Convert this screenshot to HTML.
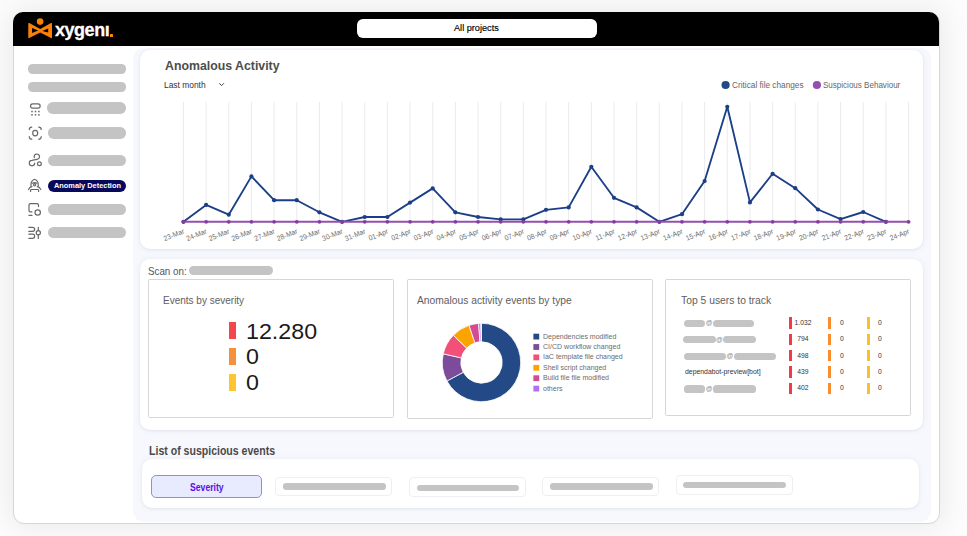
<!DOCTYPE html>
<html><head><meta charset="utf-8">
<style>
*{margin:0;padding:0;box-sizing:border-box}
html,body{width:967px;height:536px;overflow:hidden}
body{position:relative;background:#f4f4f4;font-family:"Liberation Sans",sans-serif;color:#555}
.abs{position:absolute}
#bgfade{position:absolute;left:0;top:0;width:967px;height:536px;background:#fcfcfc}
#win{position:absolute;left:13px;top:12px;width:927px;height:512px;background:#fff;border:1px solid #d6d6d6;border-radius:11px;box-shadow:0 0 28px 3px rgba(0,0,0,0.075)}
#hdr{position:absolute;left:13.4px;top:12px;width:925.9px;height:33.8px;background:#000;border-radius:10px 10px 0 0}
#lav{position:absolute;left:133px;top:48px;width:798px;height:473.6px;background:#f7f8fd;border-radius:11px}
.card{position:absolute;background:#fff;border-radius:10px;box-shadow:0 1px 3px rgba(60,60,90,0.08),0 0 6px rgba(120,125,170,0.08)}
.box{position:absolute;border:1.5px solid #d6d6d6;border-radius:1.5px;background:#fff}
.flt{position:absolute;background:#fff;border:1px solid #efeff3;border-radius:4px}
.t{position:absolute;white-space:nowrap;line-height:1}
svg text{font-family:"Liberation Sans",sans-serif}
</style></head>
<body>
<div id="bgfade"></div><div id="win"></div><div id="hdr"></div>
<svg class="abs" style="left:27px;top:17px" width="26" height="23" viewBox="0 0 26 23">
<circle cx="13.1" cy="4.6" r="3.3" fill="#fb8005"/>
<path fill-rule="evenodd" fill="#fb8005" d="M1.3 6.6 Q1.3 5.6 2.3 6.1 L13.2 12 L24 6.1 Q25 5.6 25 6.6 L25 20.6 Q25 21.6 24 21.1 L13.2 15.4 L2.3 21.1 Q1.3 21.6 1.3 20.6 Z M5.05 11.1 L11.1 13.4 L5.05 15.9 Z M21.2 11.4 L15.4 14 L21.2 15.6 Z"/>
</svg>
<div class="t" style="left:55px;top:21.2px;font-size:18.6px;font-weight:bold;color:#fff;letter-spacing:-0.45px;-webkit-text-stroke:0.3px #fff;transform:scaleX(0.965);transform-origin:0 0">xygen&#305;</div>
<div class="abs" style="left:109.90px;top:33.85px;width:3.40px;height:2.70px;background:#fc8a05;border-radius:0.6px"></div>
<div class="abs" style="left:357.00px;top:18.80px;width:240.00px;height:19.00px;background:#fff;border-radius:6px"></div>
<div class="t" style="left:453.90px;top:23.37px;font-size:9.60px;color:#000;transform:scaleX(0.955);transform-origin:0 0;-webkit-text-stroke:0.15px #000">All projects</div>
<div class="abs" style="left:28.00px;top:64.30px;width:98.20px;height:9.30px;background:#c4c4c4;border-radius:4.65px"></div>
<div class="abs" style="left:28.00px;top:82.30px;width:98.20px;height:9.30px;background:#c4c4c4;border-radius:4.65px"></div>
<div class="abs" style="left:47.10px;top:102.00px;width:78.70px;height:11.50px;background:#c4c4c4;border-radius:5.75px"></div>
<div class="abs" style="left:47.90px;top:127.40px;width:77.90px;height:11.50px;background:#c4c4c4;border-radius:5.75px"></div>
<div class="abs" style="left:47.90px;top:154.60px;width:77.90px;height:11.40px;background:#c4c4c4;border-radius:5.70px"></div>
<div class="abs" style="left:47.50px;top:179.50px;width:78.50px;height:12.00px;background:#08095a;border-radius:6px"></div>
<div class="t" style="left:54.00px;top:181.64px;font-size:7.40px;color:#fff;font-weight:bold">Anomaly Detection</div>
<div class="abs" style="left:47.90px;top:203.60px;width:77.90px;height:11.40px;background:#c4c4c4;border-radius:5.70px"></div>
<div class="abs" style="left:47.90px;top:226.60px;width:77.90px;height:11.60px;background:#c4c4c4;border-radius:5.80px"></div>
<svg class="abs" style="left:0;top:0" width="60" height="260" viewBox="0 0 60 260" fill="none" stroke="#686868" stroke-width="1.2" stroke-linecap="round">
<rect x="30.55" y="103.85" width="9.6" height="4.2" rx="2.1"/>
<g fill="#6e6e6e" stroke="none">
<rect x="31.2" y="110.8" width="1.6" height="1.5"/><rect x="34.7" y="110.8" width="1.6" height="1.5"/><rect x="38.1" y="110.8" width="1.6" height="1.5"/>
<rect x="31.2" y="114.1" width="1.6" height="1.5"/><rect x="34.7" y="114.1" width="1.6" height="1.5"/><rect x="38.1" y="114.1" width="1.6" height="1.5"/>
</g>
<path d="M29.3 129.6 Q29.3 127.1 31.8 127.1 M38.7 127.1 Q41.2 127.1 41.2 129.6 M41.2 136.7 Q41.2 139.2 38.7 139.2 M31.8 139.2 Q29.3 139.2 29.3 136.7"/>
<ellipse cx="35.2" cy="133.1" rx="2.5" ry="2.8"/>
<path d="M34.3 157.6 A2.7 2.7 0 1 1 36.9 159.4 L32 160.4 A2.7 2.7 0 1 0 34.7 163.1"/>
<circle cx="39.4" cy="163.8" r="1.9"/>
<path d="M31 186.3 L31 184.2 Q31 180.8 34.6 179.3 Q38.2 180.8 38.2 184.2 L38.2 186.3"/>
<path d="M32.3 183.2 Q34.6 181.9 36.9 183.2"/><circle cx="34.6" cy="184.7" r="1.1"/>
<path d="M28.5 189.6 Q29.5 187 32 186.6 M40.8 189.6 Q39.8 187 37.3 186.6"/>
<path d="M30.6 191.5 L30.6 190.3 Q30.6 189.5 31.4 189.5 L37.8 189.5 Q38.6 189.5 38.6 190.3 L38.6 191.5"/>
<path d="M31.9 211.9 L30.3 211.9 Q29 211.9 29 210.6 L29 204.9 Q29 203.6 30.3 203.6 L37.2 203.6 Q38.5 203.6 38.5 204.9 L38.5 206.6"/>
<path d="M29 215.4 L32 215.4"/>
<circle cx="37.7" cy="212.5" r="2.7"/>
<path d="M28.8 227.3 L32.6 227.3 A2.05 2.05 0 0 1 32.6 231.4 L28.8 231.4"/>
<path d="M28.8 234.2 L32.6 234.2 A2.05 2.05 0 0 1 32.6 238.3 L28.8 238.3"/>
<path d="M38.3 227.3 L38.3 230.5 M38.3 234.9 L38.3 238.4"/><circle cx="38.3" cy="232.7" r="2.1"/>
</svg>
<div id="lav"></div>
<div class="card" style="left:139.5px;top:50.3px;width:783.5px;height:199px"></div>
<div class="t" style="left:164.60px;top:59.06px;font-size:13.40px;color:#4d4d4d;font-weight:bold;transform:scaleX(0.920);transform-origin:0 0">Anomalous Activity</div>
<div class="t" style="left:164.10px;top:80.78px;font-size:9.00px;color:#333;transform:scaleX(0.935);transform-origin:0 0">Last month</div>
<div class="card" style="left:140px;top:258.5px;width:783px;height:171px"></div>
<div class="t" style="left:147.90px;top:265.74px;font-size:10.70px;color:#555;transform:scaleX(0.915);transform-origin:0 0">Scan on:</div>
<div class="abs" style="left:188.50px;top:266.10px;width:84.20px;height:9.20px;background:#c4c4c4;border-radius:4.60px"></div>
<div class="box" style="left:148.25px;top:279.2px;width:245.4px;height:138.55px"></div>
<div class="box" style="left:407.15px;top:279.2px;width:245.4px;height:139.45px"></div>
<div class="box" style="left:665.45px;top:279.2px;width:245.7px;height:137.3px"></div>
<div class="t" style="left:163.00px;top:295.07px;font-size:10.90px;color:#5e5e5e;transform:scaleX(0.918);transform-origin:0 0">Events by severity</div>
<div class="abs" style="left:229.00px;top:321.70px;width:6.80px;height:17.00px;background:#f2474f;"></div>
<div class="abs" style="left:229.00px;top:348.20px;width:6.80px;height:17.00px;background:#f7903a;"></div>
<div class="abs" style="left:229.00px;top:373.60px;width:6.80px;height:17.00px;background:#fcc531;"></div>
<div class="t" style="left:246.00px;top:320.00px;font-size:22.80px;color:#1a1a1a;transform:scaleX(1.020);transform-origin:0 0">12.280</div>
<div class="t" style="left:246.00px;top:345.10px;font-size:22.80px;color:#1a1a1a;transform:scaleX(1.020);transform-origin:0 0">0</div>
<div class="t" style="left:246.00px;top:371.00px;font-size:22.80px;color:#1a1a1a;transform:scaleX(1.020);transform-origin:0 0">0</div>
<div class="t" style="left:417.30px;top:294.82px;font-size:11.20px;color:#5e5e5e;transform:scaleX(0.918);transform-origin:0 0">Anomalous activity events by type</div>
<div class="t" style="left:681.00px;top:294.78px;font-size:11.25px;color:#5e5e5e;transform:scaleX(0.918);transform-origin:0 0">Top 5 users to track</div>
<div class="t" style="left:542.60px;top:332.67px;font-size:7.60px;color:#6b6b6b;transform:scaleX(0.925);transform-origin:0 0">Dependencies modified</div>
<div class="t" style="left:542.60px;top:343.07px;font-size:7.60px;color:#6b6b6b;transform:scaleX(0.925);transform-origin:0 0">CI/CD workflow changed</div>
<div class="t" style="left:542.60px;top:353.47px;font-size:7.60px;color:#6b6b6b;transform:scaleX(0.925);transform-origin:0 0">IaC template file changed</div>
<div class="t" style="left:542.60px;top:363.87px;font-size:7.60px;color:#6b6b6b;transform:scaleX(0.925);transform-origin:0 0">Shell script changed</div>
<div class="t" style="left:542.60px;top:374.27px;font-size:7.60px;color:#6b6b6b;transform:scaleX(0.925);transform-origin:0 0">Build file file modified</div>
<div class="t" style="left:542.60px;top:384.67px;font-size:7.60px;color:#6b6b6b;transform:scaleX(0.925);transform-origin:0 0">others</div>
<div class="abs" style="left:683.90px;top:319.90px;width:21.40px;height:7.20px;background:#c4c4c4;border-radius:3.60px"></div>
<div class="abs" style="left:712.70px;top:319.90px;width:41.00px;height:7.20px;background:#c4c4c4;border-radius:3.60px"></div>
<div class="t" style="left:704.8px;top:320.3px;width:8.4px;text-align:center;font-size:6.6px;color:#8a8a8a">@</div>
<div class="abs" style="left:789.30px;top:317.30px;width:2.80px;height:11.40px;background:#f03b48;"></div>
<div class="abs" style="left:828.30px;top:317.30px;width:2.80px;height:11.40px;background:#f98c2b;"></div>
<div class="abs" style="left:867.00px;top:317.30px;width:2.80px;height:11.40px;background:#fcbf26;"></div>
<div class="t" style="left:783.0px;top:318.84px;width:40px;text-align:center;font-size:7.4px;color:#333;transform:scaleX(0.915)">1.032</div>
<div class="t" style="left:821.6px;top:318.84px;width:40px;text-align:center;font-size:7.4px;color:#333;transform:scaleX(0.915)">0</div>
<div class="t" style="left:860.2px;top:318.84px;width:40px;text-align:center;font-size:7.4px;color:#333;transform:scaleX(0.915)">0</div>
<div class="abs" style="left:683.10px;top:336.30px;width:32.70px;height:7.20px;background:#c4c4c4;border-radius:3.60px"></div>
<div class="abs" style="left:723.00px;top:336.30px;width:32.70px;height:7.20px;background:#c4c4c4;border-radius:3.60px"></div>
<div class="t" style="left:715.3px;top:336.7px;width:8.2px;text-align:center;font-size:6.6px;color:#8a8a8a">@</div>
<div class="abs" style="left:789.30px;top:333.70px;width:2.80px;height:11.40px;background:#f03b48;"></div>
<div class="abs" style="left:828.30px;top:333.70px;width:2.80px;height:11.40px;background:#f98c2b;"></div>
<div class="abs" style="left:867.00px;top:333.70px;width:2.80px;height:11.40px;background:#fcbf26;"></div>
<div class="t" style="left:783.0px;top:335.24px;width:40px;text-align:center;font-size:7.4px;color:#333;transform:scaleX(0.915)">794</div>
<div class="t" style="left:821.6px;top:335.24px;width:40px;text-align:center;font-size:7.4px;color:#333;transform:scaleX(0.915)">0</div>
<div class="t" style="left:860.2px;top:335.24px;width:40px;text-align:center;font-size:7.4px;color:#333;transform:scaleX(0.915)">0</div>
<div class="abs" style="left:683.90px;top:352.70px;width:42.10px;height:7.20px;background:#c4c4c4;border-radius:3.60px"></div>
<div class="abs" style="left:733.70px;top:352.70px;width:42.40px;height:7.20px;background:#c4c4c4;border-radius:3.60px"></div>
<div class="t" style="left:725.5px;top:353.1px;width:8.7px;text-align:center;font-size:6.6px;color:#8a8a8a">@</div>
<div class="abs" style="left:789.30px;top:350.10px;width:2.80px;height:11.40px;background:#f03b48;"></div>
<div class="abs" style="left:828.30px;top:350.10px;width:2.80px;height:11.40px;background:#f98c2b;"></div>
<div class="abs" style="left:867.00px;top:350.10px;width:2.80px;height:11.40px;background:#fcbf26;"></div>
<div class="t" style="left:783.0px;top:351.64px;width:40px;text-align:center;font-size:7.4px;color:#333;transform:scaleX(0.915)">498</div>
<div class="t" style="left:821.6px;top:351.64px;width:40px;text-align:center;font-size:7.4px;color:#333;transform:scaleX(0.915)">0</div>
<div class="t" style="left:860.2px;top:351.64px;width:40px;text-align:center;font-size:7.4px;color:#333;transform:scaleX(0.915)">0</div>
<div class="t" style="left:684.80px;top:368.15px;font-size:7.50px;color:#333;transform:scaleX(0.915);transform-origin:0 0">dependabot-preview[bot]</div>
<div class="abs" style="left:789.30px;top:366.30px;width:2.80px;height:11.40px;background:#f03b48;"></div>
<div class="abs" style="left:828.30px;top:366.30px;width:2.80px;height:11.40px;background:#f98c2b;"></div>
<div class="abs" style="left:867.00px;top:366.30px;width:2.80px;height:11.40px;background:#fcbf26;"></div>
<div class="t" style="left:783.0px;top:367.84px;width:40px;text-align:center;font-size:7.4px;color:#333;transform:scaleX(0.915)">439</div>
<div class="t" style="left:821.6px;top:367.84px;width:40px;text-align:center;font-size:7.4px;color:#333;transform:scaleX(0.915)">0</div>
<div class="t" style="left:860.2px;top:367.84px;width:40px;text-align:center;font-size:7.4px;color:#333;transform:scaleX(0.915)">0</div>
<div class="abs" style="left:683.90px;top:385.40px;width:21.40px;height:7.20px;background:#c4c4c4;border-radius:3.60px"></div>
<div class="abs" style="left:712.70px;top:385.40px;width:43.00px;height:7.20px;background:#c4c4c4;border-radius:3.60px"></div>
<div class="t" style="left:704.8px;top:385.8px;width:8.4px;text-align:center;font-size:6.6px;color:#8a8a8a">@</div>
<div class="abs" style="left:789.30px;top:382.80px;width:2.80px;height:11.40px;background:#f03b48;"></div>
<div class="abs" style="left:828.30px;top:382.80px;width:2.80px;height:11.40px;background:#f98c2b;"></div>
<div class="abs" style="left:867.00px;top:382.80px;width:2.80px;height:11.40px;background:#fcbf26;"></div>
<div class="t" style="left:783.0px;top:384.34px;width:40px;text-align:center;font-size:7.4px;color:#333;transform:scaleX(0.915)">402</div>
<div class="t" style="left:821.6px;top:384.34px;width:40px;text-align:center;font-size:7.4px;color:#333;transform:scaleX(0.915)">0</div>
<div class="t" style="left:860.2px;top:384.34px;width:40px;text-align:center;font-size:7.4px;color:#333;transform:scaleX(0.915)">0</div>
<svg class="abs" style="left:0;top:0" width="967" height="536" viewBox="0 0 967 536">
<line x1="183.45" y1="102" x2="183.45" y2="221.8" stroke="#ebebeb" stroke-width="1"/>
<line x1="206.11" y1="102" x2="206.11" y2="221.8" stroke="#ebebeb" stroke-width="1"/>
<line x1="228.77" y1="102" x2="228.77" y2="221.8" stroke="#ebebeb" stroke-width="1"/>
<line x1="251.43" y1="102" x2="251.43" y2="221.8" stroke="#ebebeb" stroke-width="1"/>
<line x1="274.09" y1="102" x2="274.09" y2="221.8" stroke="#ebebeb" stroke-width="1"/>
<line x1="296.75" y1="102" x2="296.75" y2="221.8" stroke="#ebebeb" stroke-width="1"/>
<line x1="319.41" y1="102" x2="319.41" y2="221.8" stroke="#ebebeb" stroke-width="1"/>
<line x1="342.07" y1="102" x2="342.07" y2="221.8" stroke="#ebebeb" stroke-width="1"/>
<line x1="364.73" y1="102" x2="364.73" y2="221.8" stroke="#ebebeb" stroke-width="1"/>
<line x1="387.39" y1="102" x2="387.39" y2="221.8" stroke="#ebebeb" stroke-width="1"/>
<line x1="410.05" y1="102" x2="410.05" y2="221.8" stroke="#ebebeb" stroke-width="1"/>
<line x1="432.71" y1="102" x2="432.71" y2="221.8" stroke="#ebebeb" stroke-width="1"/>
<line x1="455.37" y1="102" x2="455.37" y2="221.8" stroke="#ebebeb" stroke-width="1"/>
<line x1="478.03" y1="102" x2="478.03" y2="221.8" stroke="#ebebeb" stroke-width="1"/>
<line x1="500.69" y1="102" x2="500.69" y2="221.8" stroke="#ebebeb" stroke-width="1"/>
<line x1="523.35" y1="102" x2="523.35" y2="221.8" stroke="#ebebeb" stroke-width="1"/>
<line x1="546.01" y1="102" x2="546.01" y2="221.8" stroke="#ebebeb" stroke-width="1"/>
<line x1="568.67" y1="102" x2="568.67" y2="221.8" stroke="#ebebeb" stroke-width="1"/>
<line x1="591.33" y1="102" x2="591.33" y2="221.8" stroke="#ebebeb" stroke-width="1"/>
<line x1="613.99" y1="102" x2="613.99" y2="221.8" stroke="#ebebeb" stroke-width="1"/>
<line x1="636.65" y1="102" x2="636.65" y2="221.8" stroke="#ebebeb" stroke-width="1"/>
<line x1="659.31" y1="102" x2="659.31" y2="221.8" stroke="#ebebeb" stroke-width="1"/>
<line x1="681.97" y1="102" x2="681.97" y2="221.8" stroke="#ebebeb" stroke-width="1"/>
<line x1="704.63" y1="102" x2="704.63" y2="221.8" stroke="#ebebeb" stroke-width="1"/>
<line x1="727.29" y1="102" x2="727.29" y2="221.8" stroke="#ebebeb" stroke-width="1"/>
<line x1="749.95" y1="102" x2="749.95" y2="221.8" stroke="#ebebeb" stroke-width="1"/>
<line x1="772.61" y1="102" x2="772.61" y2="221.8" stroke="#ebebeb" stroke-width="1"/>
<line x1="795.27" y1="102" x2="795.27" y2="221.8" stroke="#ebebeb" stroke-width="1"/>
<line x1="817.93" y1="102" x2="817.93" y2="221.8" stroke="#ebebeb" stroke-width="1"/>
<line x1="840.59" y1="102" x2="840.59" y2="221.8" stroke="#ebebeb" stroke-width="1"/>
<line x1="863.25" y1="102" x2="863.25" y2="221.8" stroke="#ebebeb" stroke-width="1"/>
<line x1="885.91" y1="102" x2="885.91" y2="221.8" stroke="#ebebeb" stroke-width="1"/>
<line x1="908.57" y1="102" x2="908.57" y2="221.8" stroke="#ebebeb" stroke-width="1"/>
<polyline points="183.45,221.80 206.11,204.90 228.77,214.70 251.43,176.40 274.09,200.20 296.75,200.20 319.41,212.30 342.07,221.80 364.73,217.00 387.39,217.00 410.05,202.60 432.71,188.40 455.37,212.30 478.03,217.00 500.69,219.40 523.35,219.40 546.01,209.80 568.67,207.40 591.33,166.80 613.99,197.80 636.65,207.40 659.31,221.80 681.97,214.20 704.63,181.10 727.29,106.80 749.95,202.40 772.61,173.80 795.27,188.20 817.93,209.50 840.59,219.10 863.25,212.00 885.91,221.80" fill="none" stroke="#1b3f86" stroke-width="1.85" stroke-linejoin="round"/>
<circle cx="183.45" cy="221.80" r="2.1" fill="#1b3f86"/>
<circle cx="206.11" cy="204.90" r="2.1" fill="#1b3f86"/>
<circle cx="228.77" cy="214.70" r="2.1" fill="#1b3f86"/>
<circle cx="251.43" cy="176.40" r="2.1" fill="#1b3f86"/>
<circle cx="274.09" cy="200.20" r="2.1" fill="#1b3f86"/>
<circle cx="296.75" cy="200.20" r="2.1" fill="#1b3f86"/>
<circle cx="319.41" cy="212.30" r="2.1" fill="#1b3f86"/>
<circle cx="342.07" cy="221.80" r="2.1" fill="#1b3f86"/>
<circle cx="364.73" cy="217.00" r="2.1" fill="#1b3f86"/>
<circle cx="387.39" cy="217.00" r="2.1" fill="#1b3f86"/>
<circle cx="410.05" cy="202.60" r="2.1" fill="#1b3f86"/>
<circle cx="432.71" cy="188.40" r="2.1" fill="#1b3f86"/>
<circle cx="455.37" cy="212.30" r="2.1" fill="#1b3f86"/>
<circle cx="478.03" cy="217.00" r="2.1" fill="#1b3f86"/>
<circle cx="500.69" cy="219.40" r="2.1" fill="#1b3f86"/>
<circle cx="523.35" cy="219.40" r="2.1" fill="#1b3f86"/>
<circle cx="546.01" cy="209.80" r="2.1" fill="#1b3f86"/>
<circle cx="568.67" cy="207.40" r="2.1" fill="#1b3f86"/>
<circle cx="591.33" cy="166.80" r="2.1" fill="#1b3f86"/>
<circle cx="613.99" cy="197.80" r="2.1" fill="#1b3f86"/>
<circle cx="636.65" cy="207.40" r="2.1" fill="#1b3f86"/>
<circle cx="659.31" cy="221.80" r="2.1" fill="#1b3f86"/>
<circle cx="681.97" cy="214.20" r="2.1" fill="#1b3f86"/>
<circle cx="704.63" cy="181.10" r="2.1" fill="#1b3f86"/>
<circle cx="727.29" cy="106.80" r="2.1" fill="#1b3f86"/>
<circle cx="749.95" cy="202.40" r="2.1" fill="#1b3f86"/>
<circle cx="772.61" cy="173.80" r="2.1" fill="#1b3f86"/>
<circle cx="795.27" cy="188.20" r="2.1" fill="#1b3f86"/>
<circle cx="817.93" cy="209.50" r="2.1" fill="#1b3f86"/>
<circle cx="840.59" cy="219.10" r="2.1" fill="#1b3f86"/>
<circle cx="863.25" cy="212.00" r="2.1" fill="#1b3f86"/>
<circle cx="885.91" cy="221.80" r="2.1" fill="#1b3f86"/>
<line x1="183.45" y1="221.8" x2="908.57" y2="221.8" stroke="#9450b0" stroke-width="1.9"/>
<circle cx="183.45" cy="221.8" r="1.9" fill="#853d9f"/>
<circle cx="206.11" cy="221.8" r="1.9" fill="#853d9f"/>
<circle cx="228.77" cy="221.8" r="1.9" fill="#853d9f"/>
<circle cx="251.43" cy="221.8" r="1.9" fill="#853d9f"/>
<circle cx="274.09" cy="221.8" r="1.9" fill="#853d9f"/>
<circle cx="296.75" cy="221.8" r="1.9" fill="#853d9f"/>
<circle cx="319.41" cy="221.8" r="1.9" fill="#853d9f"/>
<circle cx="342.07" cy="221.8" r="1.9" fill="#853d9f"/>
<circle cx="364.73" cy="221.8" r="1.9" fill="#853d9f"/>
<circle cx="387.39" cy="221.8" r="1.9" fill="#853d9f"/>
<circle cx="410.05" cy="221.8" r="1.9" fill="#853d9f"/>
<circle cx="432.71" cy="221.8" r="1.9" fill="#853d9f"/>
<circle cx="455.37" cy="221.8" r="1.9" fill="#853d9f"/>
<circle cx="478.03" cy="221.8" r="1.9" fill="#853d9f"/>
<circle cx="500.69" cy="221.8" r="1.9" fill="#853d9f"/>
<circle cx="523.35" cy="221.8" r="1.9" fill="#853d9f"/>
<circle cx="546.01" cy="221.8" r="1.9" fill="#853d9f"/>
<circle cx="568.67" cy="221.8" r="1.9" fill="#853d9f"/>
<circle cx="591.33" cy="221.8" r="1.9" fill="#853d9f"/>
<circle cx="613.99" cy="221.8" r="1.9" fill="#853d9f"/>
<circle cx="636.65" cy="221.8" r="1.9" fill="#853d9f"/>
<circle cx="659.31" cy="221.8" r="1.9" fill="#853d9f"/>
<circle cx="681.97" cy="221.8" r="1.9" fill="#853d9f"/>
<circle cx="704.63" cy="221.8" r="1.9" fill="#853d9f"/>
<circle cx="727.29" cy="221.8" r="1.9" fill="#853d9f"/>
<circle cx="749.95" cy="221.8" r="1.9" fill="#853d9f"/>
<circle cx="772.61" cy="221.8" r="1.9" fill="#853d9f"/>
<circle cx="795.27" cy="221.8" r="1.9" fill="#853d9f"/>
<circle cx="817.93" cy="221.8" r="1.9" fill="#853d9f"/>
<circle cx="840.59" cy="221.8" r="1.9" fill="#853d9f"/>
<circle cx="863.25" cy="221.8" r="1.9" fill="#853d9f"/>
<circle cx="885.91" cy="221.8" r="1.9" fill="#853d9f"/>
<circle cx="908.57" cy="221.8" r="1.9" fill="#853d9f"/>
<text x="0" y="0" transform="translate(184.75 233.20) rotate(-22) scale(0.92 1)" text-anchor="end" font-size="7.4" fill="#6e6e6e">23-Mar</text>
<text x="0" y="0" transform="translate(207.41 233.20) rotate(-22) scale(0.92 1)" text-anchor="end" font-size="7.4" fill="#6e6e6e">24-Mar</text>
<text x="0" y="0" transform="translate(230.07 233.20) rotate(-22) scale(0.92 1)" text-anchor="end" font-size="7.4" fill="#6e6e6e">25-Mar</text>
<text x="0" y="0" transform="translate(252.73 233.20) rotate(-22) scale(0.92 1)" text-anchor="end" font-size="7.4" fill="#6e6e6e">26-Mar</text>
<text x="0" y="0" transform="translate(275.39 233.20) rotate(-22) scale(0.92 1)" text-anchor="end" font-size="7.4" fill="#6e6e6e">27-Mar</text>
<text x="0" y="0" transform="translate(298.05 233.20) rotate(-22) scale(0.92 1)" text-anchor="end" font-size="7.4" fill="#6e6e6e">28-Mar</text>
<text x="0" y="0" transform="translate(320.71 233.20) rotate(-22) scale(0.92 1)" text-anchor="end" font-size="7.4" fill="#6e6e6e">29-Mar</text>
<text x="0" y="0" transform="translate(343.37 233.20) rotate(-22) scale(0.92 1)" text-anchor="end" font-size="7.4" fill="#6e6e6e">30-Mar</text>
<text x="0" y="0" transform="translate(366.03 233.20) rotate(-22) scale(0.92 1)" text-anchor="end" font-size="7.4" fill="#6e6e6e">31-Mar</text>
<text x="0" y="0" transform="translate(388.69 233.20) rotate(-22) scale(0.92 1)" text-anchor="end" font-size="7.4" fill="#6e6e6e">01-Apr</text>
<text x="0" y="0" transform="translate(411.35 233.20) rotate(-22) scale(0.92 1)" text-anchor="end" font-size="7.4" fill="#6e6e6e">02-Apr</text>
<text x="0" y="0" transform="translate(434.01 233.20) rotate(-22) scale(0.92 1)" text-anchor="end" font-size="7.4" fill="#6e6e6e">03-Apr</text>
<text x="0" y="0" transform="translate(456.67 233.20) rotate(-22) scale(0.92 1)" text-anchor="end" font-size="7.4" fill="#6e6e6e">04-Apr</text>
<text x="0" y="0" transform="translate(479.33 233.20) rotate(-22) scale(0.92 1)" text-anchor="end" font-size="7.4" fill="#6e6e6e">05-Apr</text>
<text x="0" y="0" transform="translate(501.99 233.20) rotate(-22) scale(0.92 1)" text-anchor="end" font-size="7.4" fill="#6e6e6e">06-Apr</text>
<text x="0" y="0" transform="translate(524.65 233.20) rotate(-22) scale(0.92 1)" text-anchor="end" font-size="7.4" fill="#6e6e6e">07-Apr</text>
<text x="0" y="0" transform="translate(547.31 233.20) rotate(-22) scale(0.92 1)" text-anchor="end" font-size="7.4" fill="#6e6e6e">08-Apr</text>
<text x="0" y="0" transform="translate(569.97 233.20) rotate(-22) scale(0.92 1)" text-anchor="end" font-size="7.4" fill="#6e6e6e">09-Apr</text>
<text x="0" y="0" transform="translate(592.63 233.20) rotate(-22) scale(0.92 1)" text-anchor="end" font-size="7.4" fill="#6e6e6e">10-Apr</text>
<text x="0" y="0" transform="translate(615.29 233.20) rotate(-22) scale(0.92 1)" text-anchor="end" font-size="7.4" fill="#6e6e6e">11-Apr</text>
<text x="0" y="0" transform="translate(637.95 233.20) rotate(-22) scale(0.92 1)" text-anchor="end" font-size="7.4" fill="#6e6e6e">12-Apr</text>
<text x="0" y="0" transform="translate(660.61 233.20) rotate(-22) scale(0.92 1)" text-anchor="end" font-size="7.4" fill="#6e6e6e">13-Apr</text>
<text x="0" y="0" transform="translate(683.27 233.20) rotate(-22) scale(0.92 1)" text-anchor="end" font-size="7.4" fill="#6e6e6e">14-Apr</text>
<text x="0" y="0" transform="translate(705.93 233.20) rotate(-22) scale(0.92 1)" text-anchor="end" font-size="7.4" fill="#6e6e6e">15-Apr</text>
<text x="0" y="0" transform="translate(728.59 233.20) rotate(-22) scale(0.92 1)" text-anchor="end" font-size="7.4" fill="#6e6e6e">16-Apr</text>
<text x="0" y="0" transform="translate(751.25 233.20) rotate(-22) scale(0.92 1)" text-anchor="end" font-size="7.4" fill="#6e6e6e">17-Apr</text>
<text x="0" y="0" transform="translate(773.91 233.20) rotate(-22) scale(0.92 1)" text-anchor="end" font-size="7.4" fill="#6e6e6e">18-Apr</text>
<text x="0" y="0" transform="translate(796.57 233.20) rotate(-22) scale(0.92 1)" text-anchor="end" font-size="7.4" fill="#6e6e6e">19-Apr</text>
<text x="0" y="0" transform="translate(819.23 233.20) rotate(-22) scale(0.92 1)" text-anchor="end" font-size="7.4" fill="#6e6e6e">20-Apr</text>
<text x="0" y="0" transform="translate(841.89 233.20) rotate(-22) scale(0.92 1)" text-anchor="end" font-size="7.4" fill="#6e6e6e">21-Apr</text>
<text x="0" y="0" transform="translate(864.55 233.20) rotate(-22) scale(0.92 1)" text-anchor="end" font-size="7.4" fill="#6e6e6e">22-Apr</text>
<text x="0" y="0" transform="translate(887.21 233.20) rotate(-22) scale(0.92 1)" text-anchor="end" font-size="7.4" fill="#6e6e6e">23-Apr</text>
<text x="0" y="0" transform="translate(909.87 233.20) rotate(-22) scale(0.92 1)" text-anchor="end" font-size="7.4" fill="#6e6e6e">24-Apr</text>
<circle cx="725.6" cy="85.0" r="4.1" fill="#234a86"/>
<circle cx="816.9" cy="85.0" r="4.1" fill="#9450b0"/>
<path d="M219.3 83.3 L221.6 85.6 L223.9 83.3" fill="none" stroke="#333" stroke-width="0.95"/>
<path d="M481.50,323.30 A39.2,39.2 0 1 1 446.95,381.02 L463.26,372.28 A20.7,20.7 0 1 0 481.50,341.80 Z" fill="#234a86" stroke="#fff" stroke-width="0.8"/>
<path d="M446.95,381.02 A39.2,39.2 0 0 1 443.27,353.82 L461.31,357.91 A20.7,20.7 0 0 0 463.26,372.28 Z" fill="#7c4b9a" stroke="#fff" stroke-width="0.8"/>
<path d="M443.27,353.82 A39.2,39.2 0 0 1 453.35,335.22 L466.63,348.09 A20.7,20.7 0 0 0 461.31,357.91 Z" fill="#f25079" stroke="#fff" stroke-width="0.8"/>
<path d="M453.35,335.22 A39.2,39.2 0 0 1 469.00,325.35 L474.90,342.88 A20.7,20.7 0 0 0 466.63,348.09 Z" fill="#fba400" stroke="#fff" stroke-width="0.8"/>
<path d="M469.00,325.35 A39.2,39.2 0 0 1 478.63,323.41 L479.98,341.86 A20.7,20.7 0 0 0 474.90,342.88 Z" fill="#d24c93" stroke="#fff" stroke-width="0.8"/>
<path d="M478.63,323.41 A39.2,39.2 0 0 1 480.68,323.31 L481.07,341.80 A20.7,20.7 0 0 0 479.98,341.86 Z" fill="#b26ff2" stroke="#fff" stroke-width="0.8"/>
<rect x="533.4" y="333.70" width="5.8" height="5.8" fill="#234a86"/>
<rect x="533.4" y="344.10" width="5.8" height="5.8" fill="#7c4b9a"/>
<rect x="533.4" y="354.50" width="5.8" height="5.8" fill="#f25079"/>
<rect x="533.4" y="364.90" width="5.8" height="5.8" fill="#fba400"/>
<rect x="533.4" y="375.30" width="5.8" height="5.8" fill="#d24c93"/>
<rect x="533.4" y="385.70" width="5.8" height="5.8" fill="#b26ff2"/>
</svg>
<div class="t" style="left:731.90px;top:80.67px;font-size:8.90px;color:#666;transform:scaleX(0.930);transform-origin:0 0">Critical file changes</div>
<div class="t" style="left:823.30px;top:80.84px;font-size:8.70px;color:#666;transform:scaleX(0.925);transform-origin:0 0">Suspicious Behaviour</div>
<div class="t" style="left:149.00px;top:443.53px;font-size:13.20px;color:#4a4a4a;font-weight:bold;transform:scaleX(0.800);transform-origin:0 0">List of suspicious events</div>
<div class="card" style="left:142.3px;top:459.4px;width:776.8px;height:48.5px"></div>
<div class="abs" style="left:151.30px;top:474.90px;width:110.80px;height:22.80px;background:#e8eafd;border:1.4px solid #8290f6;border-radius:5px"></div>
<div class="t" style="left:189.80px;top:482.64px;font-size:10.00px;color:#5a0fe6;font-weight:bold;transform:scaleX(0.865);transform-origin:0 0">Severity</div>
<div class="flt" style="left:275px;top:476.6px;width:117.3px;height:19.7px"></div>
<div class="abs" style="left:283.20px;top:483.20px;width:102.80px;height:6.40px;background:#c4c4c4;border-radius:3.20px"></div>
<div class="flt" style="left:408.5px;top:477.4px;width:117.3px;height:20.0px"></div>
<div class="abs" style="left:416.60px;top:484.70px;width:102.50px;height:6.30px;background:#c4c4c4;border-radius:3.15px"></div>
<div class="flt" style="left:542.2px;top:476.6px;width:116.6px;height:19.4px"></div>
<div class="abs" style="left:550.30px;top:483.20px;width:102.70px;height:6.40px;background:#c4c4c4;border-radius:3.20px"></div>
<div class="flt" style="left:675.6px;top:475.1px;width:117.0px;height:19.7px"></div>
<div class="abs" style="left:683.40px;top:481.80px;width:102.80px;height:6.40px;background:#c4c4c4;border-radius:3.20px"></div>
</body></html>
